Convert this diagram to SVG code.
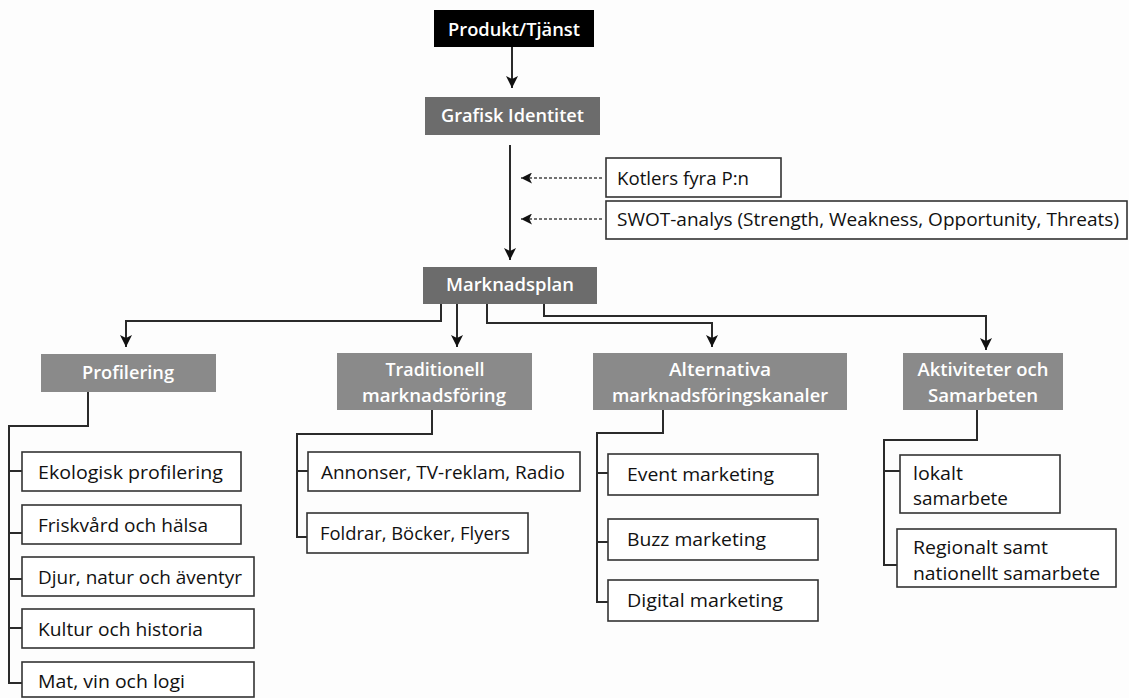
<svg xmlns="http://www.w3.org/2000/svg" width="1129" height="698" viewBox="0 0 1129 698">
<style>
  .hd text{font-family:"Open Sans","Noto Sans",sans-serif;font-weight:600;font-size:18.5px;fill:#fff;text-anchor:middle}
  .bx rect{fill:#fff;stroke:#333;stroke-width:1.6}
  .bx text{font-family:"Open Sans","Noto Sans",sans-serif;font-size:19px;fill:#111}
  .ln{fill:none;stroke:#2a2a2a;stroke-width:2}
  .ds{fill:none;stroke:#444;stroke-width:1.3;stroke-dasharray:3 2}
  .d1{fill:#6c6c6c}
  .d2{fill:#8a8a8a}
</style>
<defs>
  <marker id="arr" viewBox="0 0 12 12" refX="12" refY="6" markerWidth="12" markerHeight="12" orient="auto" markerUnits="userSpaceOnUse">
    <path d="M0,0 L12,6 L0,12 L3,6 z" fill="#111"/>
  </marker>
  <marker id="arrs" viewBox="0 0 12 12" refX="12" refY="6" markerWidth="11" markerHeight="11" orient="auto" markerUnits="userSpaceOnUse">
    <path d="M0,0 L12,6 L0,12 L3,6 z" fill="#111"/>
  </marker>
</defs>
<rect width="1129" height="698" fill="#fdfdfd"/>

<g id="connectors">
  <path class="ln" d="M512,47 V88" marker-end="url(#arr)"/>
  <path class="ln" d="M510,145 V260" marker-end="url(#arr)"/>
  <path class="ds" d="M602,178 H521" marker-end="url(#arrs)"/>
  <path class="ds" d="M602,219 H521" marker-end="url(#arrs)"/>
  <path class="ln" d="M441,304 V321 H126 V347" marker-end="url(#arr)"/>
  <path class="ln" d="M457,304 V347" marker-end="url(#arr)"/>
  <path class="ln" d="M487,304 V323 H712 V347" marker-end="url(#arr)"/>
  <path class="ln" d="M544,304 V316 H986 V350" marker-end="url(#arr)"/>
  <path class="ln" d="M88,392 V426 H9 V683 H22 M9,471 H22 M9,533 H22 M9,579 H22 M9,628 H22"/>
  <path class="ln" d="M432,410 V434 H297 V537 H307 M297,471 H308"/>
  <path class="ln" d="M663,410 V433 H597 V602 H608 M597,473 H608 M597,542 H608"/>
  <path class="ln" d="M977,410 V440 H884 V565 H897 M884,471 H900"/>
</g>

<g id="produkt" class="hd">
  <rect x="434" y="10" width="160" height="37" fill="#000"/>
  <text x="514" y="36" textLength="132" lengthAdjust="spacingAndGlyphs">Produkt/Tjänst</text>
</g>
<g id="grafisk" class="hd">
  <rect class="d1" x="425" y="97" width="175" height="38"/>
  <text x="512.5" y="122" textLength="143" lengthAdjust="spacingAndGlyphs">Grafisk Identitet</text>
</g>
<g id="kotlers" class="bx">
  <rect x="606" y="158" width="175" height="39"/>
  <text x="617" y="185" textLength="132" lengthAdjust="spacingAndGlyphs">Kotlers fyra P:n</text>
</g>
<g id="swot" class="bx">
  <rect x="606" y="201" width="521" height="38"/>
  <text x="617" y="226" textLength="502" lengthAdjust="spacingAndGlyphs">SWOT-analys (Strength, Weakness, Opportunity, Threats)</text>
</g>
<g id="marknadsplan" class="hd">
  <rect class="d1" x="423" y="267" width="174" height="37"/>
  <text x="510" y="291" textLength="128" lengthAdjust="spacingAndGlyphs">Marknadsplan</text>
</g>

<g id="profilering" class="hd">
  <rect class="d2" x="41" y="354" width="175" height="38"/>
  <text x="128" y="379" textLength="92" lengthAdjust="spacingAndGlyphs">Profilering</text>
</g>
<g id="traditionell" class="hd">
  <rect class="d2" x="337" y="353" width="195" height="57"/>
  <text x="435" y="376" textLength="99" lengthAdjust="spacingAndGlyphs">Traditionell</text>
  <text x="434" y="402" textLength="144" lengthAdjust="spacingAndGlyphs">marknadsföring</text>
</g>
<g id="alternativa" class="hd">
  <rect class="d2" x="593" y="353" width="254" height="57"/>
  <text x="720" y="376" textLength="102" lengthAdjust="spacingAndGlyphs">Alternativa</text>
  <text x="720" y="402" textLength="216" lengthAdjust="spacingAndGlyphs">marknadsföringskanaler</text>
</g>
<g id="aktiviteter" class="hd">
  <rect class="d2" x="903" y="353" width="160" height="57"/>
  <text x="983" y="376" textLength="131" lengthAdjust="spacingAndGlyphs">Aktiviteter och</text>
  <text x="983" y="402" textLength="110" lengthAdjust="spacingAndGlyphs">Samarbeten</text>
</g>

<g id="ekologisk" class="bx">
  <rect x="22" y="452" width="219" height="39"/>
  <text x="38" y="479" textLength="185" lengthAdjust="spacingAndGlyphs">Ekologisk profilering</text>
</g>
<g id="friskvard" class="bx">
  <rect x="22" y="505" width="219" height="39"/>
  <text x="38" y="532" textLength="170" lengthAdjust="spacingAndGlyphs">Friskvård och hälsa</text>
</g>
<g id="djur" class="bx">
  <rect x="22" y="557" width="232" height="39"/>
  <text x="38" y="584" textLength="204" lengthAdjust="spacingAndGlyphs">Djur, natur och äventyr</text>
</g>
<g id="kultur" class="bx">
  <rect x="22" y="609" width="232" height="39"/>
  <text x="38" y="636" textLength="165" lengthAdjust="spacingAndGlyphs">Kultur och historia</text>
</g>
<g id="mat" class="bx">
  <rect x="22" y="662" width="232" height="35"/>
  <text x="38" y="688" textLength="147" lengthAdjust="spacingAndGlyphs">Mat, vin och logi</text>
</g>

<g id="annonser" class="bx">
  <rect x="308" y="452" width="272" height="39"/>
  <text x="321" y="479" textLength="244" lengthAdjust="spacingAndGlyphs">Annonser, TV-reklam, Radio</text>
</g>
<g id="foldrar" class="bx">
  <rect x="307" y="513" width="221" height="40"/>
  <text x="320" y="540" textLength="190" lengthAdjust="spacingAndGlyphs">Foldrar, Böcker, Flyers</text>
</g>

<g id="event" class="bx">
  <rect x="608" y="454" width="210" height="41"/>
  <text x="627" y="481" textLength="147" lengthAdjust="spacingAndGlyphs">Event marketing</text>
</g>
<g id="buzz" class="bx">
  <rect x="608" y="519" width="210" height="41"/>
  <text x="627" y="546" textLength="139" lengthAdjust="spacingAndGlyphs">Buzz marketing</text>
</g>
<g id="digital" class="bx">
  <rect x="608" y="580" width="210" height="41"/>
  <text x="627" y="607" textLength="156" lengthAdjust="spacingAndGlyphs">Digital marketing</text>
</g>

<g id="lokalt" class="bx">
  <rect x="900" y="455" width="160" height="58"/>
  <text x="913" y="480" textLength="50" lengthAdjust="spacingAndGlyphs">lokalt</text>
  <text x="913" y="505" textLength="95" lengthAdjust="spacingAndGlyphs">samarbete</text>
</g>
<g id="regionalt" class="bx">
  <rect x="897" y="529" width="219" height="58"/>
  <text x="913" y="554" textLength="135" lengthAdjust="spacingAndGlyphs">Regionalt samt</text>
  <text x="913" y="580" textLength="187" lengthAdjust="spacingAndGlyphs">nationellt samarbete</text>
</g>
</svg>
